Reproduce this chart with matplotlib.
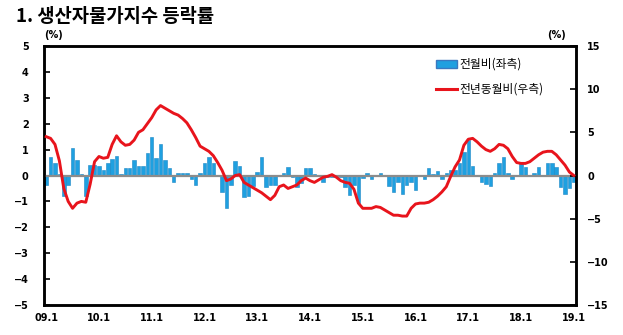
import numpy as np
import matplotlib.pyplot as plt
from matplotlib.patches import Patch
from matplotlib.lines import Line2D

plt.rcParams['font.family'] = ['Noto Sans CJK KR', 'DejaVu Sans']

# x축 눈금 (매년 1월)
tick_labels = ['09.1', '10.1', '11.1', '12.1', '13.1', '14.1',
               '15.1', '16.1', '17.1', '18.1', '19.1']

# 전월비 (%, 좌축) 2009.1 ~ 2019.1
mom = [-0.35, 0.70, 0.50, 0.05, -0.80, -0.35, 1.05, 0.58, 0.06, -0.80,
       0.40, 0.40, 0.35, 0.20, 0.50, 0.64, 0.76, 0.06, 0.30, 0.30,
       0.58, 0.37, 0.37, 0.88, 1.50, 0.68, 1.20, 0.58, 0.30, -0.26,
       0.08, 0.08, 0.08, -0.13, -0.36, 0.08, 0.50, 0.70, 0.50, 0.02,
       -0.64, -1.25, -0.35, 0.56, 0.38, -0.84, -0.78, -0.40, 0.15, 0.70,
       -0.45, -0.38, -0.36, 0.02, 0.10, 0.32, -0.05, -0.45, -0.28, 0.30,
       0.30, 0.06, 0.03, -0.26, -0.05, -0.05, -0.05, -0.05, -0.45, -0.77,
       -0.38, -1.06, -0.10, 0.09, -0.13, 0.02, 0.09, 0.02, -0.42, -0.64,
       -0.26, -0.73, -0.38, -0.26, -0.55, 0.02, -0.13, 0.30, 0.06, 0.17,
       -0.13, 0.09, 0.20, 0.20, 0.50, 0.90, 1.37, 0.38, 0.02, -0.26,
       -0.32, -0.42, 0.09, 0.50, 0.70, 0.09, -0.13, 0.02, 0.50, 0.32,
       0.02, 0.09, 0.32, 0.02, 0.50, 0.50, 0.32, -0.45, -0.73, -0.50,
       -0.26]

# 전년동월비 (%, 우축)
yoy = [4.5, 4.3, 3.6, 1.7, -1.5, -3.0, -3.8, -3.2, -3.0, -3.1,
       -1.0, 1.6, 2.2, 2.0, 2.1, 3.6, 4.6, 3.9, 3.5, 3.6,
       4.1, 5.0, 5.3, 6.0, 6.7, 7.6, 8.1, 7.8, 7.5, 7.2,
       7.0, 6.6, 6.1, 5.3, 4.4, 3.4, 3.1, 2.8, 2.3, 1.5,
       0.6, -0.6, -0.4, 0.0, 0.1, -0.8, -1.1, -1.4, -1.7, -2.0,
       -2.4, -2.8, -2.3, -1.3, -1.1, -1.5, -1.3, -1.1, -0.6, -0.3,
       -0.6, -0.8, -0.5, -0.2, -0.1, 0.1, -0.2, -0.6, -0.8, -0.9,
       -1.6, -3.2, -3.8, -3.8, -3.8, -3.6, -3.7, -4.0, -4.3, -4.6,
       -4.6, -4.7, -4.7, -3.8, -3.3, -3.2, -3.2, -3.1, -2.8, -2.4,
       -1.9, -1.3, -0.1, 1.0, 1.8, 3.5, 4.2, 4.3, 3.9, 3.4,
       3.0, 2.8, 3.1, 3.6, 3.5, 3.1, 2.2, 1.5, 1.4, 1.4,
       1.6, 2.0, 2.4, 2.7, 2.8, 2.8, 2.4, 1.8, 1.2, 0.4,
       0.0]

x = np.arange(len(mom))
bar_color = '#1fa0e0'
line_color = '#e8141c'

fig = plt.figure(figsize=(6.23, 3.35), dpi=100)
ax = fig.add_axes([44 / 623, 30 / 335, 532 / 623, 259 / 335])

ax.bar(x, mom, width=0.8, color=bar_color, edgecolor='#1b86c4',
       linewidth=0.4, zorder=2)
ax.axhline(0, color='#8c8c8c', lw=1.6, zorder=3)
ax.set_xlim(-0.5, len(mom) - 0.5)
ax.set_ylim(-5, 5)

ax2 = ax.twinx()
ax2.plot(x, yoy, color=line_color, lw=2.1, zorder=4)
ax2.set_ylim(-15, 15)

tick_font = dict(fontsize=7, fontweight='bold', family='DejaVu Sans')

def fmt(v):
    return str(v).replace('-', '\u2212')

ax.set_yticks(range(-5, 6))
ax.set_yticklabels([fmt(v) for v in range(-5, 6)], **tick_font)
ax2.set_yticks(range(-15, 16, 5))
ax2.set_yticklabels([fmt(v) for v in range(-15, 16, 5)], **tick_font)
ax.set_xticks(range(0, len(mom), 12))
ax.set_xticklabels(tick_labels, **tick_font)

ax.tick_params(axis='y', direction='in', length=4, width=1.2, pad=11)
ax2.tick_params(axis='y', direction='in', length=4, width=1.2, pad=8)
ax.tick_params(axis='x', length=0, pad=6)

for a in (ax, ax2):
    for s in a.spines.values():
        s.set_linewidth(1.8)
        s.set_color('black')

fig.text(16 / 623, 1 - 16 / 335, '1. 생산자물가지수 등락률',
         fontsize=13.5, fontweight='bold', va='center')
fig.text(44 / 623, 1 - 35 / 335, '(%)', fontsize=7, fontweight='bold',
         va='center', family='DejaVu Sans')
fig.text(566 / 623, 1 - 35 / 335, '(%)', fontsize=7, fontweight='bold',
         va='center', ha='right', family='DejaVu Sans')

handles = [Patch(facecolor=bar_color, edgecolor='#3a78c0'),
           Line2D([0], [0], color=line_color, lw=2.2)]
fig.legend(handles, ['전월비(좌측)', '전년동월비(우측)'],
           loc='upper left', bbox_to_anchor=(436 / 623, 1 - 58 / 335),
           frameon=False, fontsize=8.5, handlelength=1.8, handleheight=0.7,
           handletextpad=0.2, labelspacing=1.0, borderpad=0,
           borderaxespad=0)

fig.savefig('out.png', dpi=100)
